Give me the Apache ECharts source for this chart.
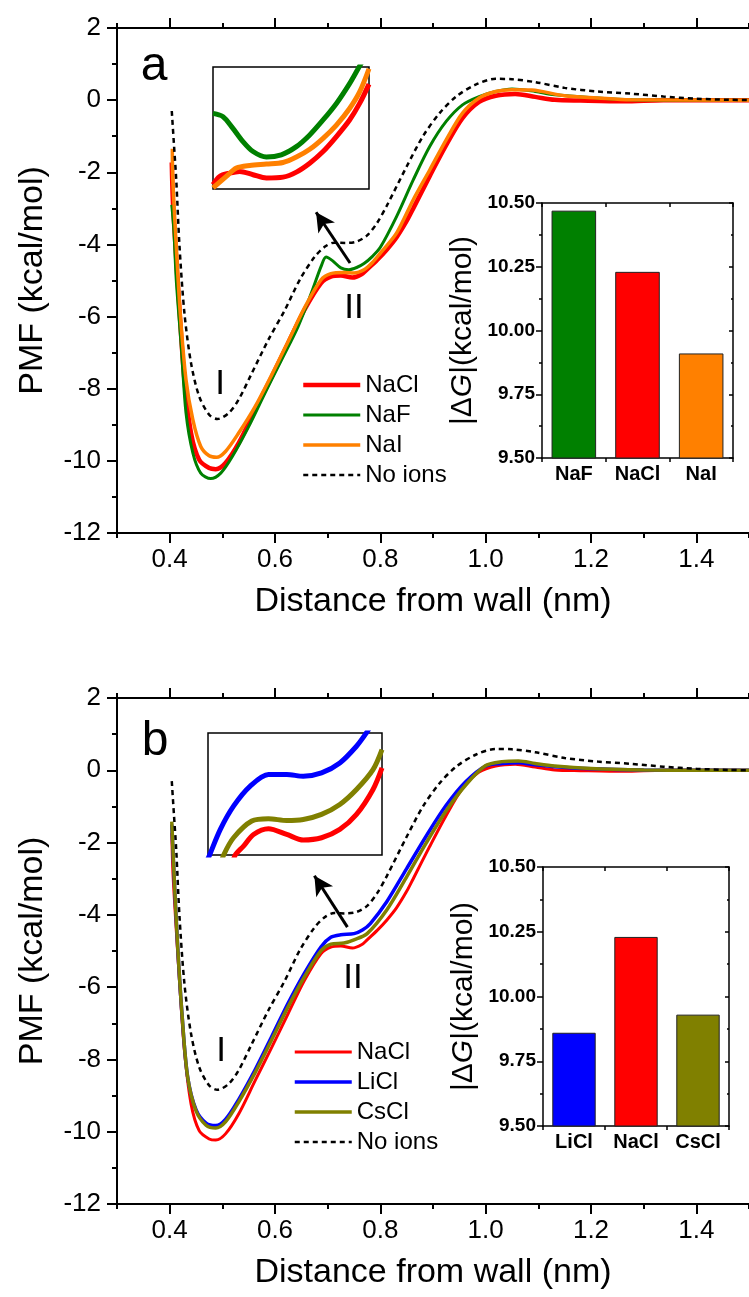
<!DOCTYPE html>
<html><head><meta charset="utf-8">
<script src="https://cdn.jsdelivr.net/npm/echarts@6.0.0/dist/echarts.min.js"></script>
<style>html,body{margin:0;padding:0;background:#fff}#c{width:749px;height:1297px}</style>
</head><body><div id="c"></div>
<script>
// ---------- data ----------
const xTickLabels = [0.4, 0.6, 0.8, 1.0, 1.2, 1.4];
const xMinorTicks = [0.3, 0.5, 0.7, 0.9, 1.1, 1.3, 1.5];

const noIonsX = [0.404,0.408,0.4125,0.4187,0.428,0.4406,0.456,0.475,0.4905,0.5125,0.531,0.556,0.5875,0.619,0.647,0.675,0.695,0.7125,0.734,0.755,0.775,0.794,0.8125,0.85,0.881,0.9125,0.944,0.981,1.019,1.05,1.094,1.15,1.2125,1.275,1.3375,1.40,1.4625,1.5];
const noIonsY = [-0.3,-1.2,-2.21,-4.05,-5.90,-7.29,-8.21,-8.72,-8.84,-8.67,-8.30,-7.57,-6.64,-5.81,-4.98,-4.35,-4.06,-3.95,-3.96,-3.92,-3.75,-3.40,-2.92,-1.84,-1.0,-0.36,0.10,0.43,0.59,0.58,0.50,0.34,0.24,0.18,0.10,0.04,0.01,0.0];

const naclX = [0.404,0.406,0.411,0.419,0.428,0.4406,0.456,0.475,0.4875,0.506,0.531,0.5625,0.594,0.625,0.656,0.6875,0.706,0.725,0.747,0.765,0.775,0.794,0.8125,0.831,0.85,0.8625,0.894,0.925,0.956,0.9875,1.019,1.056,1.094,1.131,1.18,1.2625,1.3375,1.5];
const naclY = [-1.73,-2.76,-4.05,-5.9,-7.75,-9.23,-9.97,-10.20,-10.23,-10.06,-9.51,-8.58,-7.66,-6.73,-5.81,-5.07,-4.89,-4.86,-4.92,-4.82,-4.69,-4.43,-4.14,-3.80,-3.35,-3.0,-2.1,-1.25,-0.5,-0.05,0.12,0.17,0.09,0.01,-0.01,-0.03,0.0,0.0];

const nafX = [0.404,0.408,0.4125,0.422,0.431,0.444,0.459,0.478,0.497,0.519,0.55,0.581,0.6125,0.644,0.669,0.6875,0.697,0.709,0.725,0.74,0.755,0.769,0.785,0.80,0.831,0.8625,0.894,0.925,0.956,0.9875,1.019,1.05,1.094,1.131,1.2125,1.275,1.35,1.5];
const nafY = [-2.9,-3.6,-4.98,-6.83,-8.67,-9.78,-10.34,-10.49,-10.34,-9.88,-9.05,-8.12,-7.20,-6.27,-5.35,-4.61,-4.35,-4.45,-4.65,-4.70,-4.64,-4.53,-4.33,-4.08,-3.22,-2.21,-1.28,-0.59,-0.13,0.10,0.24,0.31,0.24,0.15,0.06,0.01,0.0,0.0];

const naiX = [0.405,0.406,0.4125,0.42,0.431,0.444,0.459,0.475,0.489,0.506,0.531,0.5625,0.594,0.625,0.656,0.6875,0.706,0.731,0.75,0.769,0.785,0.80,0.831,0.8625,0.894,0.925,0.956,0.9875,1.019,1.05,1.0875,1.15,1.2125,1.275,1.5];
const naiY = [-1.35,-2.21,-4.05,-5.90,-7.75,-8.86,-9.60,-9.86,-9.90,-9.74,-9.23,-8.49,-7.61,-6.69,-5.76,-4.98,-4.81,-4.78,-4.79,-4.70,-4.50,-4.24,-3.68,-2.76,-1.93,-1.10,-0.36,0.06,0.24,0.29,0.28,0.12,0.06,0.01,0.0];

const liclX = [0.404,0.409,0.4155,0.4237,0.434,0.45,0.469,0.4875,0.506,0.531,0.5625,0.594,0.625,0.656,0.6875,0.706,0.725,0.75,0.766,0.781,0.8125,0.85,0.8875,0.925,0.9625,1.0,1.031,1.0625,1.094,1.131,1.2,1.3,1.5];
const liclY = [-1.5,-3.12,-4.97,-6.81,-8.47,-9.39,-9.76,-9.83,-9.66,-9.11,-8.28,-7.36,-6.44,-5.61,-4.88,-4.62,-4.55,-4.52,-4.42,-4.24,-3.63,-2.72,-1.81,-0.97,-0.31,0.12,0.19,0.21,0.15,0.10,0.04,0.01,0.0];

const csclX = [0.404,0.409,0.4155,0.4237,0.434,0.45,0.469,0.4875,0.506,0.531,0.5625,0.594,0.625,0.656,0.6875,0.706,0.731,0.75,0.775,0.8125,0.85,0.8875,0.925,0.9625,1.0,1.031,1.0625,1.094,1.131,1.2,1.3,1.4,1.5];
const csclY = [-1.42,-3.1,-4.95,-6.8,-8.47,-9.42,-9.82,-9.90,-9.73,-9.18,-8.36,-7.45,-6.54,-5.71,-4.99,-4.81,-4.78,-4.69,-4.52,-3.86,-2.95,-2.0,-1.12,-0.4,0.13,0.24,0.26,0.19,0.12,0.05,0.01,0.0,0.0];

// inset (zoomed shoulder II) curves
const insetA_nafX = [0.7000,0.7058,0.7115,0.7173,0.7231,0.7308,0.7394,0.7481,0.7558,0.7635,0.7712,0.7788,0.7837,0.7865];
const insetA_nafY = [-4.566,-4.585,-4.652,-4.728,-4.785,-4.817,-4.804,-4.757,-4.690,-4.604,-4.509,-4.395,-4.310,-4.262];
const insetA_naclX = [0.7000,0.7038,0.7096,0.7154,0.7231,0.7308,0.7404,0.7481,0.7558,0.7635,0.7712,0.7788,0.7846,0.7900];
const insetA_naclY = [-4.975,-4.928,-4.909,-4.899,-4.918,-4.937,-4.932,-4.903,-4.852,-4.785,-4.699,-4.604,-4.509,-4.398];
const insetA_naiX = [0.7000,0.7077,0.7135,0.7212,0.7308,0.7404,0.7481,0.7558,0.7635,0.7712,0.7788,0.7846,0.7900];
const insetA_naiY = [-4.994,-4.928,-4.880,-4.865,-4.857,-4.848,-4.817,-4.772,-4.709,-4.633,-4.538,-4.443,-4.310];

const insetB_liclX = [0.6793,0.6811,0.6885,0.6976,0.7091,0.7217,0.7343,0.7457,0.7583,0.7709,0.7824,0.7892,0.7927];
const insetB_liclY = [-5.034,-5.0,-4.853,-4.720,-4.605,-4.538,-4.538,-4.548,-4.529,-4.472,-4.376,-4.300,-4.252];
const insetB_csclX = [0.6885,0.6908,0.6976,0.7102,0.7217,0.7343,0.7457,0.7583,0.7709,0.7824,0.7938,0.8000];
const insetB_csclY = [-5.063,-5.0,-4.901,-4.805,-4.792,-4.802,-4.796,-4.767,-4.710,-4.624,-4.510,-4.395];
const insetB_naclX = [0.6965,0.6988,0.7045,0.7114,0.7217,0.7343,0.7457,0.7583,0.7709,0.7824,0.7938,0.8000];
const insetB_naclY = [-5.063,-5.0,-4.949,-4.882,-4.849,-4.882,-4.914,-4.901,-4.853,-4.767,-4.624,-4.500];

// |ΔG| bars
const barCatsA = ['NaF', 'NaCl', 'NaI'];
const barValsA = [10.47, 10.23, 9.91];
const barCatsB = ['LiCl', 'NaCl', 'CsCl'];
const barValsB = [9.86, 10.23, 9.93];

const legendA = ['NaCl', 'NaF', 'NaI', 'No ions'];
const legendB = ['NaCl (b)', 'LiCl', 'CsCl', 'No ions (b)'];

const COLORS = {NaCl:'#ff0000', NaF:'#008000', NaI:'#ff8000', LiCl:'#0000ff', CsCl:'#808000', 'No ions':'#000000'};

// ---------- build ----------
const FF = '"Liberation Sans", Arial, Helvetica, sans-serif';
const zip = (xs, ys) => xs.map((x, i) => [x, ys[i]]);
const K = '#000';
const grids = [], xAxes = [], yAxes = [], series = [], legends = [];

function panel(cfg) {
  const g = grids.length;
  grids.push({left: cfg.main.left, top: cfg.main.top, width: cfg.main.width, height: cfg.main.height, containLabel: false});
  const xb = xAxes.length;
  const common = {gridIndex: g, type: 'value', min: 0.3, max: 1.5, splitLine: {show: false}};
  xAxes.push(Object.assign({}, common, {position: 'bottom',
    axisLine: {show: true, onZero: false, lineStyle: {color: K, width: 2}},
    axisTick: {show: true, customValues: xTickLabels, length: 10, lineStyle: {color: K, width: 2}},
    axisLabel: {show: true, customValues: xTickLabels, formatter: v => v.toFixed(1), margin: 14, fontSize: 26, color: K, fontFamily: FF},
    name: 'Distance from wall (nm)', nameLocation: 'middle', nameGap: 52,
    nameTextStyle: {fontSize: 34, color: K, fontFamily: FF}}));
  xAxes.push(Object.assign({}, common, {position: 'bottom',
    axisLine: {show: false, onZero: false},
    axisTick: {show: true, customValues: xMinorTicks, length: 5, lineStyle: {color: K, width: 2}},
    axisLabel: {show: false}}));
  xAxes.push(Object.assign({}, common, {position: 'top',
    axisLine: {show: true, onZero: false, lineStyle: {color: K, width: 2}},
    axisTick: {show: true, customValues: xTickLabels, length: 10, lineStyle: {color: K, width: 2}},
    axisLabel: {show: false}}));
  xAxes.push(Object.assign({}, common, {position: 'top',
    axisLine: {show: false, onZero: false},
    axisTick: {show: true, customValues: xMinorTicks, length: 5, lineStyle: {color: K, width: 2}},
    axisLabel: {show: false}}));
  const yb = yAxes.length;
  yAxes.push({gridIndex: g, type: 'value', min: -12, max: 2, interval: 2, position: 'left',
    axisLine: {show: true, onZero: false, lineStyle: {color: K, width: 2}},
    axisTick: {show: true, length: 10, lineStyle: {color: K, width: 2}},
    minorTick: {show: true, splitNumber: 2, length: 5, lineStyle: {color: K, width: 2}},
    axisLabel: {fontSize: 26, color: K, fontFamily: FF, margin: 16},
    splitLine: {show: false}, minorSplitLine: {show: false},
    name: 'PMF (kcal/mol)', nameLocation: 'middle', nameGap: 67,
    nameTextStyle: {fontSize: 34, color: K, fontFamily: FF}});

  cfg.curves.forEach(c => {
    const s = {type: 'line', name: c.name, xAxisIndex: xb, yAxisIndex: yb, data: zip(c.x, c.y),
      symbol: 'none', smooth: 0.3, clip: true,
      lineStyle: {color: COLORS[c.key], width: c.w, type: c.dash ? [5, 4] : 'solid'},
      itemStyle: {color: COLORS[c.key]}};
    if (c.arrow) {
      s.markLine = {silent: true, symbol: ['none', 'arrow'], symbolSize: [15, 19],
        label: {show: false},
        lineStyle: {color: K, width: 3, type: 'solid'},
        data: [[{coord: c.arrow[0]}, {coord: c.arrow[1]}]]};
    }
    series.push(s);
  });

  legends.push({orient: 'vertical', left: cfg.legend.left, top: cfg.legend.top, padding: 0,
    itemWidth: 57, itemHeight: 24, itemGap: 6, selectedMode: false,
    data: cfg.legend.items, formatter: n => n.replace(' (b)', ''),
    itemStyle: {opacity: 0},
    lineStyle: {width: 'inherit'},
    textStyle: {fontSize: 24, color: K, fontFamily: FF}});

  // inset grid
  const gi = grids.length;
  grids.push({left: cfg.inset.left, top: cfg.inset.top, width: cfg.inset.width, height: cfg.inset.height,
    show: true, borderColor: K, borderWidth: 1.5, backgroundColor: 'rgba(0,0,0,0)'});
  const xi = xAxes.length;
  xAxes.push({gridIndex: gi, type: 'value', min: cfg.inset.xr[0], max: cfg.inset.xr[1], show: false});
  const yi = yAxes.length;
  yAxes.push({gridIndex: gi, type: 'value', min: cfg.inset.yr[0], max: cfg.inset.yr[1], show: false});
  cfg.inset.curves.forEach(c => {
    series.push({type: 'line', name: 'inset ' + c.key + cfg.tag, xAxisIndex: xi, yAxisIndex: yi, data: zip(c.x, c.y),
      symbol: 'none', smooth: 0.3, clip: true,
      lineStyle: {color: COLORS[c.key], width: 5}, itemStyle: {color: COLORS[c.key]}});
  });

  // bar grid
  const gb = grids.length;
  grids.push({left: cfg.bar.left, top: cfg.bar.top, width: cfg.bar.width, height: cfg.bar.height});
  const xbb = xAxes.length;
  xAxes.push({gridIndex: gb, type: 'category', data: cfg.bar.cats, position: 'bottom',
    axisLine: {show: true, onZero: false, lineStyle: {color: K, width: 1.5}},
    axisTick: {show: true, length: 4, lineStyle: {color: K, width: 1.5}},
    axisLabel: {fontSize: 20, fontWeight: 'bold', color: K, fontFamily: FF, margin: 6},
    splitLine: {show: false}});
  xAxes.push({gridIndex: gb, type: 'category', data: cfg.bar.cats, position: 'top',
    axisLine: {show: true, onZero: false, lineStyle: {color: K, width: 1.5}},
    axisTick: {show: true, inside: true, length: 4, lineStyle: {color: K, width: 1.5}},
    axisLabel: {show: false}, splitLine: {show: false}});
  const ybb = yAxes.length;
  yAxes.push({gridIndex: gb, type: 'value', min: 9.5, max: 10.5, interval: 0.25, position: 'left',
    axisLine: {show: true, onZero: false, lineStyle: {color: K, width: 1.5}},
    axisTick: {show: true, length: 6, lineStyle: {color: K, width: 1.5}},
    minorTick: {show: true, splitNumber: 2, length: 3, lineStyle: {color: K, width: 1.5}},
    axisLabel: {fontSize: 19, fontWeight: 'bold', color: K, fontFamily: FF, margin: 7, formatter: v => v.toFixed(2)},
    splitLine: {show: false}, minorSplitLine: {show: false},
    name: '{n||\u0394}{i|G}{n||(kcal/mol)}', nameLocation: 'middle', nameGap: 64,
    nameTextStyle: {fontSize: 30, color: K, fontFamily: FF,
      rich: {n: {fontSize: 30, color: K, fontFamily: FF}, i: {fontSize: 30, color: K, fontFamily: FF, fontStyle: 'italic'}}}});
  yAxes.push({gridIndex: gb, type: 'value', min: 9.5, max: 10.5, interval: 0.25, position: 'right',
    axisLine: {show: true, onZero: false, lineStyle: {color: K, width: 1.5}},
    axisTick: {show: true, inside: true, length: 4, lineStyle: {color: K, width: 1.5}},
    minorTick: {show: true, splitNumber: 2, length: 2, lineStyle: {color: K, width: 1.5}},
    axisLabel: {show: false}, splitLine: {show: false}, minorSplitLine: {show: false}});
  series.push({type: 'bar', name: 'bars' + cfg.tag, xAxisIndex: xbb, yAxisIndex: ybb, barWidth: '70%', clip: true,
    data: cfg.bar.vals.map((v, i) => ({value: v, itemStyle: {color: COLORS[cfg.bar.cats[i]]}})),
    itemStyle: {borderColor: '#222', borderWidth: 1}});
}

panel({
  tag: ' a',
  main: {left: 117, top: 28, width: 640, height: 505},
  curves: [
    {name: 'NaCl', key: 'NaCl', x: naclX, y: naclY, w: 4.5},
    {name: 'NaF', key: 'NaF', x: nafX, y: nafY, w: 3},
    {name: 'NaI', key: 'NaI', x: naiX, y: naiY, w: 3.5},
    {name: 'No ions', key: 'No ions', x: noIonsX, y: noIonsY, w: 2.5, dash: true, arrow: [[0.7425, -4.515], [0.678, -3.107]]}
  ],
  legend: {left: 301, top: 373, items: legendA},
  inset: {left: 213, top: 67, width: 156, height: 122, xr: [0.70, 0.79], yr: [-5.0, -4.3],
    curves: [
      {key: 'NaF', x: insetA_nafX, y: insetA_nafY},
      {key: 'NaCl', x: insetA_naclX, y: insetA_naclY},
      {key: 'NaI', x: insetA_naiX, y: insetA_naiY}
    ]},
  bar: {left: 542, top: 203, width: 191, height: 255, cats: barCatsA, vals: barValsA}
});

panel({
  tag: ' b',
  main: {left: 117, top: 698, width: 640, height: 506},
  curves: [
    {name: 'NaCl (b)', key: 'NaCl', x: naclX, y: naclY, w: 3},
    {name: 'LiCl', key: 'LiCl', x: liclX, y: liclY, w: 3.5},
    {name: 'CsCl', key: 'CsCl', x: csclX, y: csclY, w: 3.5},
    {name: 'No ions (b)', key: 'No ions', x: noIonsX, y: noIonsY, w: 2.5, dash: true, arrow: [[0.7375, -4.34], [0.6748, -2.918]]}
  ],
  legend: {left: 293, top: 1040, items: legendB},
  inset: {left: 208, top: 733, width: 174, height: 122, xr: [0.68, 0.80], yr: [-5.0, -4.3],
    curves: [
      {key: 'LiCl', x: insetB_liclX, y: insetB_liclY},
      {key: 'CsCl', x: insetB_csclX, y: insetB_csclY},
      {key: 'NaCl', x: insetB_naclX, y: insetB_naclY}
    ]},
  bar: {left: 543, top: 867, width: 186, height: 259, cats: barCatsB, vals: barValsB}
});

function txt(t, x, y, size) {
  return {type: 'text', x: x, y: y, z: 100,
    style: {text: t, fontSize: size, fontFamily: FF, fill: K, align: 'center', verticalAlign: 'middle', textAlign: 'center', textVerticalAlign: 'middle'}};
}

const chart = echarts.init(document.getElementById('c'), null, {renderer: 'canvas'});
chart.setOption({
  backgroundColor: '#fff',
  animation: false,
  grid: grids, xAxis: xAxes, yAxis: yAxes, series: series, legend: legends,
  graphic: [
    txt('a', 154, 67, 48), txt('b', 155, 742, 48),
    txt('I', 220, 384, 35), txt('II', 354, 308, 35),
    txt('I', 221, 1051, 35), txt('II', 353, 978, 35)
  ]
});
</script></body></html>
